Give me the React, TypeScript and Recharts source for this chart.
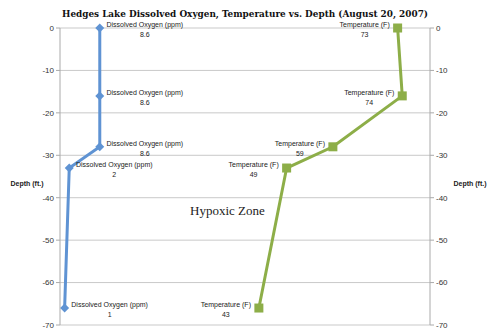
import { ScatterChart, Scatter, XAxis, YAxis, CartesianGrid } from 'recharts';

const depths = [0, -16, -28, -33, -66];
const oxygen = [8.6, 8.6, 8.6, 2, 1];
const temperature = [73, 74, 59, 49, 43];
const depthTicks = [0, -10, -20, -30, -40, -50, -60, -70];

const oxygenData = depths.map((d, i) => ({ value: oxygen[i], depth: d }));
const temperatureData = depths.map((d, i) => ({ value: temperature[i], depth: d }));

const BLUE = '#5f93d3';
const GREEN = '#8dae48';
const LABEL_FONT = '"Liberation Sans", Arial, sans-serif';

const tickStyle = { fill: '#333', fontSize: 8, fontFamily: LABEL_FONT };

function pointLabel(cx: number, cy: number, name: string, value: number, dx: number) {
  const common = { fontFamily: LABEL_FONT, fontSize: 7, fill: '#222', textAnchor: 'middle' as const };
  return (
    <g>
      <text x={cx + dx} y={cy - 1} {...common}>{name}</text>
      <text x={cx + dx} y={cy + 9} {...common}>{value}</text>
    </g>
  );
}

function OxygenPoint(props: any) {
  const { cx, cy, payload } = props;
  const r = 4.5;
  return (
    <g>
      <path d={`M${cx},${cy - r}L${cx + r},${cy}L${cx},${cy + r}L${cx - r},${cy}Z`} fill={BLUE} />
      {pointLabel(cx, cy, 'Dissolved Oxygen (ppm)', payload.value, 45)}
    </g>
  );
}

function TemperaturePoint(props: any) {
  const { cx, cy, payload } = props;
  const s = 4.5;
  return (
    <g>
      <rect x={cx - s} y={cy - s} width={s * 2} height={s * 2} fill={GREEN} />
      {pointLabel(cx, cy, 'Temperature (F)', payload.value, -33)}
    </g>
  );
}

function depthLabel(offset: number) {
  return (props: any) => {
    const { viewBox } = props;
    return (
      <text
        x={viewBox.x + offset}
        y={viewBox.y + viewBox.height / 2 + 9}
        textAnchor="middle"
        fontFamily={LABEL_FONT}
        fontSize={7}
        fontWeight="bold"
        fill="#222"
      >
        Depth (ft.)
      </text>
    );
  };
}

export default function App() {
  return (
    <div style={{ position: 'absolute', left: 0, top: 0, width: 490, height: 333, background: '#fff' }}>
      <ScatterChart width={490} height={333} margin={{ top: 28, right: 0, bottom: 8, left: 0 }}>
        <CartesianGrid yAxisId="left" vertical={false} stroke="#c9c9c9" />
        <XAxis type="number" dataKey="value" domain={[0, 80]} hide />
        <YAxis
          yAxisId="left"
          type="number"
          dataKey="depth"
          domain={[-70, 0]}
          ticks={depthTicks}
          width={60}
          tick={tickStyle}
          tickSize={4}
          axisLine={{ stroke: '#aaa' }}
          tickLine={{ stroke: '#aaa' }}
          label={{ content: depthLabel(27) }}
        />
        <YAxis
          yAxisId="right"
          orientation="right"
          type="number"
          dataKey="depth"
          domain={[-70, 0]}
          ticks={depthTicks}
          width={60}
          tick={tickStyle}
          tickSize={4}
          axisLine={{ stroke: '#aaa' }}
          tickLine={{ stroke: '#aaa' }}
          label={{ content: depthLabel(40) }}
        />
        <Scatter
          yAxisId="left"
          data={oxygenData}
          fill={BLUE}
          line={{ stroke: BLUE, strokeWidth: 3 }}
          lineType="joint"
          shape={OxygenPoint}
          isAnimationActive={false}
        />
        <Scatter
          yAxisId="right"
          data={temperatureData}
          fill={GREEN}
          line={{ stroke: GREEN, strokeWidth: 3 }}
          lineType="joint"
          shape={TemperaturePoint}
          isAnimationActive={false}
        />
      </ScatterChart>
      <svg width={490} height={26} style={{ position: 'absolute', left: 0, top: 0 }}>
        <text
          x={62}
          y={17}
          textLength={366}
          lengthAdjust="spacingAndGlyphs"
          fontFamily='"DejaVu Serif", serif'
          fontWeight="bold"
          fontSize={10}
          fill="#111"
        >
          Hedges Lake Dissolved Oxygen, Temperature vs. Depth (August 20, 2007)
        </text>
      </svg>
      <div
        style={{
          position: 'absolute',
          left: 190,
          top: 203,
          fontFamily: '"Liberation Serif", serif',
          fontSize: 13,
          color: '#222',
          whiteSpace: 'nowrap',
        }}
      >
        Hypoxic Zone
      </div>
    </div>
  );
}
